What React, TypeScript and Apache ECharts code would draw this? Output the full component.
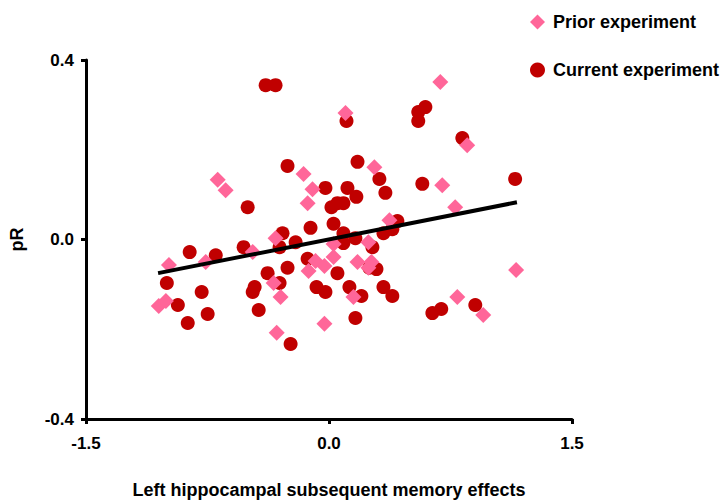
import React, { useEffect, useRef } from "react";
import * as echarts from "echarts";

const seriesNames = ["Prior experiment", "Current experiment"];

const priorX = [0.687, 0.102, 0.853, -0.687, -0.638, -0.157, -0.102, -0.132, 0.28, 0.699, 0.779, 0.373, -0.33, -0.471, 0.028, -0.083, -0.126, -0.028, 0.028, 0.176, 0.243, 0.262, 0.243, -0.342, -0.299, 0.151, -0.028, -0.323, -0.988, -0.761, -1.051, -1.007, 0.792, 0.952, 1.155];
const priorY = [0.351, 0.282, 0.21, 0.133, 0.11, 0.146, 0.112, 0.081, 0.161, 0.121, 0.072, 0.043, 0.003, -0.028, -0.01, -0.048, -0.07, -0.059, -0.039, -0.05, -0.006, -0.05, -0.063, -0.097, -0.128, -0.128, -0.188, -0.208, -0.057, -0.05, -0.148, -0.137, -0.128, -0.168, -0.068];

const currentX = [-0.391, -0.33, -0.256, 0.108, 0.551, 0.595, 0.551, 0.823, 0.176, 0.311, 0.348, 0.576, 1.149, -0.022, 0.114, 0.169, 0.015, 0.052, 0.089, -0.502, -0.114, 0.028, 0.089, 0.163, 0.089, -0.287, -0.206, -0.305, 0.336, 0.391, 0.422, 0.268, -0.86, -0.699, -0.527, -0.379, -0.256, -0.305, -0.459, -0.471, -0.434, -0.132, 0.052, -0.077, -0.022, 0.126, 0.2, 0.249, 0.293, 0.336, 0.391, 0.163, -0.237, -1.001, -0.933, -0.786, -0.872, -0.749, 0.638, 0.693, 0.903];
const currentY = [0.344, 0.344, 0.164, 0.264, 0.284, 0.295, 0.264, 0.226, 0.173, 0.135, 0.104, 0.124, 0.135, 0.115, 0.115, 0.095, 0.072, 0.081, 0.081, 0.072, 0.026, 0.035, 0.014, 0.003, -0.008, 0.014, -0.006, -0.017, 0.014, 0.023, 0.041, -0.017, -0.028, -0.035, -0.017, -0.075, -0.063, -0.097, -0.106, -0.117, -0.157, -0.043, -0.075, -0.106, -0.117, -0.106, -0.126, -0.063, -0.066, -0.106, -0.126, -0.175, -0.233, -0.097, -0.146, -0.117, -0.186, -0.166, -0.164, -0.155, -0.146];

const fitX = [-1.055, 1.16];
const fitY = [-0.075, 0.083];

const xTicks = [-1.5, 0, 1.5];
const yTicks = [-0.4, 0, 0.4];

const xTitle = "Left hippocampal subsequent memory effects";
const yTitle = "pR";

const FONT = "'Liberation Sans', Arial, Helvetica, sans-serif";

export default function App() {
  const ref = useRef<HTMLDivElement>(null);

  useEffect(() => {
    if (!ref.current) return;
    const chart = echarts.init(ref.current, undefined, { renderer: "svg" });
    const zip = (xs: number[], ys: number[]) => xs.map((x, i) => [x, ys[i]]);
    const axisCommon = {
      type: "value" as const,
      splitLine: { show: false },
      axisLine: { show: true, onZero: false, lineStyle: { color: "#000", width: 3 } },
      axisTick: { show: true, length: 5, lineStyle: { color: "#000", width: 3 } },
      nameLocation: "middle" as const,
      nameTextStyle: { color: "#000", fontSize: 18, fontWeight: "bold", fontFamily: FONT },
    };
    chart.setOption({
      animation: false,
      backgroundColor: "#fff",
      grid: { left: 85, right: 152, top: 60, bottom: 85 },
      legend: {
        orient: "vertical",
        left: 525,
        top: 8,
        itemWidth: 15,
        itemHeight: 15,
        itemGap: 30,
        data: [seriesNames[0], seriesNames[1]],
        textStyle: { color: "#000", fontSize: 18, fontWeight: "bold", fontFamily: FONT, padding: [0, 0, 0, 3] },
      },
      xAxis: {
        ...axisCommon,
        min: xTicks[0],
        max: xTicks[xTicks.length - 1],
        interval: xTicks[1] - xTicks[0],
        name: xTitle,
        nameGap: 62,
        axisLabel: {
          color: "#000",
          fontSize: 17,
          fontWeight: "bold",
          fontFamily: FONT,
          margin: 16,
          formatter: (v: number) => v.toFixed(1),
        },
      },
      yAxis: {
        ...axisCommon,
        min: yTicks[0],
        max: yTicks[yTicks.length - 1],
        interval: yTicks[1] - yTicks[0],
        name: yTitle,
        nameGap: 60,
        axisLabel: {
          color: "#000",
          fontSize: 17,
          fontWeight: "bold",
          fontFamily: FONT,
          margin: 12,
          formatter: (v: number) => v.toFixed(1),
        },
      },
      series: [
        {
          name: seriesNames[1],
          type: "scatter",
          symbol: "circle",
          symbolSize: 14,
          itemStyle: { color: "#C00000", opacity: 1 },
          data: zip(currentX, currentY),
          z: 2,
        },
        {
          name: seriesNames[0],
          type: "scatter",
          symbol: "diamond",
          symbolSize: 16,
          itemStyle: { color: "#FF6699", opacity: 1 },
          data: zip(priorX, priorY),
          z: 3,
        },
        {
          type: "line",
          data: zip(fitX, fitY),
          showSymbol: false,
          symbol: "none",
          lineStyle: { color: "#000", width: 4 },
          z: 4,
          silent: true,
        },
      ],
    });
    return () => chart.dispose();
  }, []);

  return (
    <div
      ref={ref}
      style={{ position: "fixed", left: 0, top: 0, width: 724, height: 504, background: "#fff" }}
    />
  );
}
